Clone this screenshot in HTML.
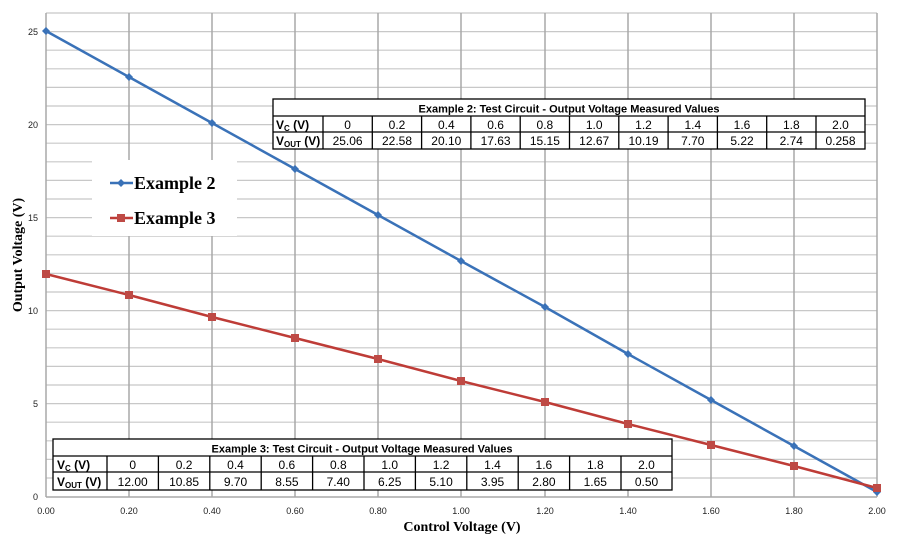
<!DOCTYPE html>
<html><head><style>
body{margin:0;background:#fff;}
svg text{font-family:"Liberation Sans",sans-serif;}
</style></head><body>
<svg width="900" height="544" xmlns="http://www.w3.org/2000/svg">
<rect width="900" height="544" fill="#fff"/>
<g stroke="#c8c8c8" stroke-width="1.2">
<line x1="46" x2="877" y1="13" y2="13"/>
<line x1="46" x2="877" y1="31.6" y2="31.6"/><line x1="46" x2="877" y1="50.2" y2="50.2"/><line x1="46" x2="877" y1="68.8" y2="68.8"/><line x1="46" x2="877" y1="87.4" y2="87.4"/><line x1="46" x2="877" y1="106" y2="106"/><line x1="46" x2="877" y1="124.6" y2="124.6"/><line x1="46" x2="877" y1="143.2" y2="143.2"/><line x1="46" x2="877" y1="161.8" y2="161.8"/><line x1="46" x2="877" y1="180.4" y2="180.4"/><line x1="46" x2="877" y1="199" y2="199"/><line x1="46" x2="877" y1="217.6" y2="217.6"/><line x1="46" x2="877" y1="236.2" y2="236.2"/><line x1="46" x2="877" y1="254.8" y2="254.8"/><line x1="46" x2="877" y1="273.4" y2="273.4"/><line x1="46" x2="877" y1="292" y2="292"/><line x1="46" x2="877" y1="310.6" y2="310.6"/><line x1="46" x2="877" y1="329.2" y2="329.2"/><line x1="46" x2="877" y1="347.8" y2="347.8"/><line x1="46" x2="877" y1="366.4" y2="366.4"/><line x1="46" x2="877" y1="385" y2="385"/><line x1="46" x2="877" y1="403.6" y2="403.6"/><line x1="46" x2="877" y1="422.2" y2="422.2"/><line x1="46" x2="877" y1="440.8" y2="440.8"/><line x1="46" x2="877" y1="459.4" y2="459.4"/><line x1="46" x2="877" y1="478" y2="478"/>
</g>
<g stroke="#a8a8a8" stroke-width="1.5">
<line x1="46" x2="46" y1="13" y2="497"/><line x1="129" x2="129" y1="13" y2="497"/><line x1="212" x2="212" y1="13" y2="497"/><line x1="295" x2="295" y1="13" y2="497"/><line x1="378" x2="378" y1="13" y2="497"/><line x1="461" x2="461" y1="13" y2="497"/><line x1="545" x2="545" y1="13" y2="497"/><line x1="628" x2="628" y1="13" y2="497"/><line x1="711" x2="711" y1="13" y2="497"/><line x1="794" x2="794" y1="13" y2="497"/><line x1="877" x2="877" y1="13" y2="497"/>
<line x1="46" x2="877" y1="497" y2="497"/>
</g>
<g font-size="9" fill="#222" text-anchor="end">
<text x="38" y="35">25</text><text x="38" y="128">20</text><text x="38" y="221">15</text><text x="38" y="314">10</text><text x="38" y="407">5</text><text x="38" y="500">0</text>
</g>
<g font-size="9" fill="#222" text-anchor="middle">
<text x="46" y="514">0.00</text><text x="129" y="514">0.20</text><text x="212" y="514">0.40</text><text x="295" y="514">0.60</text><text x="378" y="514">0.80</text><text x="461" y="514">1.00</text><text x="545" y="514">1.20</text><text x="628" y="514">1.40</text><text x="711" y="514">1.60</text><text x="794" y="514">1.80</text><text x="877" y="514">2.00</text>
</g>
<text x="462" y="531" font-weight="bold" font-size="14" text-anchor="middle" style="font-family:'Liberation Serif',serif">Control  Voltage (V)</text>
<text transform="translate(22,255) rotate(-90)" font-weight="bold" font-size="14" text-anchor="middle" style="font-family:'Liberation Serif',serif">Output Voltage (V)</text>
<polyline fill="none" stroke="#3a72b8" stroke-width="2.5" points="46,31 129,77 212,123 295,169 378,215 461,261 545,307 628,354 711,400 794,446 877,492"/>
<g fill="#3a72b8">
<path d="M46,27l4,4-4,4-4-4z"/><path d="M129,73l4,4-4,4-4-4z"/><path d="M212,119l4,4-4,4-4-4z"/><path d="M295,165l4,4-4,4-4-4z"/><path d="M378,211l4,4-4,4-4-4z"/><path d="M461,257l4,4-4,4-4-4z"/><path d="M545,303l4,4-4,4-4-4z"/><path d="M628,350l4,4-4,4-4-4z"/><path d="M711,396l4,4-4,4-4-4z"/><path d="M794,442l4,4-4,4-4-4z"/><path d="M877,488l4,4-4,4-4-4z"/>
</g>
<polyline fill="none" stroke="#be3c37" stroke-width="2.5" points="46,274 129,295 212,317 295,338 378,359 461,381 545,402 628,424 711,445 794,466 877,488"/>
<g fill="#be4a45">
<rect x="42" y="270" width="8" height="8"/><rect x="125" y="291" width="8" height="8"/><rect x="208" y="313" width="8" height="8"/><rect x="291" y="334" width="8" height="8"/><rect x="374" y="355" width="8" height="8"/><rect x="457" y="377" width="8" height="8"/><rect x="541" y="398" width="8" height="8"/><rect x="624" y="420" width="8" height="8"/><rect x="707" y="441" width="8" height="8"/><rect x="790" y="462" width="8" height="8"/><rect x="873" y="484" width="8" height="8"/>
</g>
<rect x="92" y="160" width="145" height="76" fill="#fff"/>
<line x1="110" x2="133" y1="183" y2="183" stroke="#3a72b8" stroke-width="2.5"/><path d="M121,179l4,4-4,4-4-4z" fill="#3a72b8"/>
<text x="134" y="189" font-size="18" font-weight="bold" style="font-family:'Liberation Serif',serif">Example 2</text>
<line x1="110" x2="133" y1="218" y2="218" stroke="#be3c37" stroke-width="2.5"/><rect x="117" y="214" width="8" height="8" fill="#be4a45"/>
<text x="134" y="224" font-size="18" font-weight="bold" style="font-family:'Liberation Serif',serif">Example 3</text>
<g stroke="#000" stroke-width="1.3" fill="none">
<rect x="273" y="99" width="592" height="50" fill="#fff"/>
<line x1="273" x2="865" y1="116" y2="116"/><line x1="273" x2="865" y1="132" y2="132"/>
</g>
<text x="569" y="112.5" font-size="11" font-weight="bold" text-anchor="middle">Example 2: Test Circuit - Output Voltage Measured Values</text>
<g font-size="12" fill="#000">
<text x="276" y="129" font-weight="bold">V<tspan font-size="8" dy="2">C</tspan><tspan dy="-2"> (V)</tspan></text>
<text x="276" y="145" font-weight="bold">V<tspan font-size="8" dy="2">OUT</tspan><tspan dy="-2"> (V)</tspan></text>
</g>
<g stroke="#000" stroke-width="1.3" fill="none">
<rect x="53" y="439" width="619" height="51" fill="#fff"/>
<line x1="53" x2="672" y1="456" y2="456"/><line x1="53" x2="672" y1="472" y2="472"/>
</g>
<text x="362" y="452.5" font-size="11" font-weight="bold" text-anchor="middle">Example 3: Test Circuit - Output Voltage Measured Values</text>
<g font-size="12" fill="#000">
<text x="57" y="469" font-weight="bold">V<tspan font-size="8" dy="2">C</tspan><tspan dy="-2"> (V)</tspan></text>
<text x="57" y="486" font-weight="bold">V<tspan font-size="8" dy="2">OUT</tspan><tspan dy="-2"> (V)</tspan></text>
</g>
<g stroke="#000" stroke-width="1.3">
<line x1="323" x2="323" y1="116" y2="149"/><line x1="372.3" x2="372.3" y1="116" y2="149"/><line x1="421.6" x2="421.6" y1="116" y2="149"/><line x1="470.9" x2="470.9" y1="116" y2="149"/><line x1="520.2" x2="520.2" y1="116" y2="149"/><line x1="569.5" x2="569.5" y1="116" y2="149"/><line x1="618.8" x2="618.8" y1="116" y2="149"/><line x1="668.1" x2="668.1" y1="116" y2="149"/><line x1="717.4" x2="717.4" y1="116" y2="149"/><line x1="766.7" x2="766.7" y1="116" y2="149"/><line x1="816" x2="816" y1="116" y2="149"/>
<line x1="107" x2="107" y1="456" y2="490"/><line x1="158.4" x2="158.4" y1="456" y2="490"/><line x1="209.8" x2="209.8" y1="456" y2="490"/><line x1="261.2" x2="261.2" y1="456" y2="490"/><line x1="312.6" x2="312.6" y1="456" y2="490"/><line x1="364" x2="364" y1="456" y2="490"/><line x1="415.4" x2="415.4" y1="456" y2="490"/><line x1="466.8" x2="466.8" y1="456" y2="490"/><line x1="518.2" x2="518.2" y1="456" y2="490"/><line x1="569.6" x2="569.6" y1="456" y2="490"/><line x1="621" x2="621" y1="456" y2="490"/>
</g>
<g font-size="12" text-anchor="middle" fill="#000">
<text x="347.6" y="129">0</text><text x="397" y="129">0.2</text><text x="446.3" y="129">0.4</text><text x="495.6" y="129">0.6</text><text x="544.9" y="129">0.8</text><text x="594.2" y="129">1.0</text><text x="643.5" y="129">1.2</text><text x="692.8" y="129">1.4</text><text x="742" y="129">1.6</text><text x="791.3" y="129">1.8</text><text x="840.5" y="129">2.0</text>
<text x="347.6" y="145">25.06</text><text x="397" y="145">22.58</text><text x="446.3" y="145">20.10</text><text x="495.6" y="145">17.63</text><text x="544.9" y="145">15.15</text><text x="594.2" y="145">12.67</text><text x="643.5" y="145">10.19</text><text x="692.8" y="145">7.70</text><text x="742" y="145">5.22</text><text x="791.3" y="145">2.74</text><text x="840.5" y="145">0.258</text>
<text x="132.7" y="469">0</text><text x="184.1" y="469">0.2</text><text x="235.5" y="469">0.4</text><text x="286.9" y="469">0.6</text><text x="338.3" y="469">0.8</text><text x="389.7" y="469">1.0</text><text x="441.1" y="469">1.2</text><text x="492.5" y="469">1.4</text><text x="543.9" y="469">1.6</text><text x="595.3" y="469">1.8</text><text x="646.5" y="469">2.0</text>
<text x="132.7" y="486">12.00</text><text x="184.1" y="486">10.85</text><text x="235.5" y="486">9.70</text><text x="286.9" y="486">8.55</text><text x="338.3" y="486">7.40</text><text x="389.7" y="486">6.25</text><text x="441.1" y="486">5.10</text><text x="492.5" y="486">3.95</text><text x="543.9" y="486">2.80</text><text x="595.3" y="486">1.65</text><text x="646.5" y="486">0.50</text>
</g>
</svg>
</body></html>
